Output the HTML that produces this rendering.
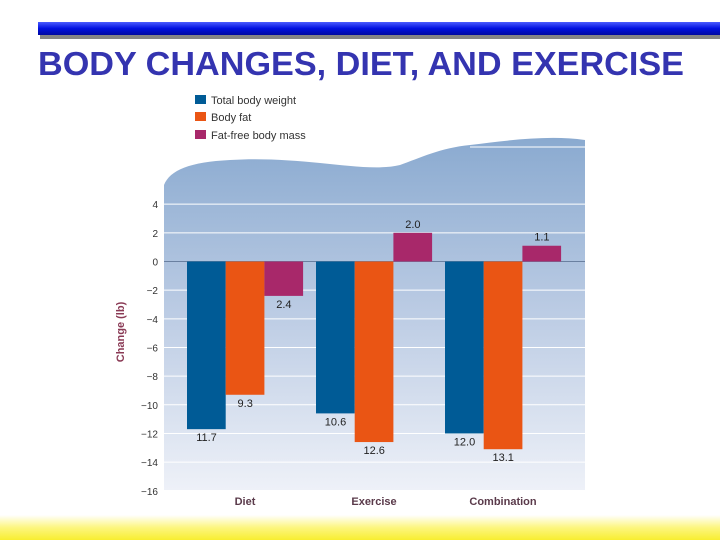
<!DOCTYPE html>
<html><head><meta charset="utf-8"><style>
html,body{margin:0;padding:0;background:#fff;}
svg{display:block;font-family:"Liberation Sans",Arial,sans-serif;}
</style></head><body>
<svg id="c" width="720" height="540" viewBox="0 0 720 540">
<defs>
<linearGradient id="bg" x1="0" y1="0" x2="0" y2="1">
<stop offset="0" stop-color="#8aaad0"/><stop offset="0.5" stop-color="#bccce4"/><stop offset="1" stop-color="#eef1f8"/>
</linearGradient>
<linearGradient id="yl" x1="0" y1="0" x2="0" y2="1">
<stop offset="0" stop-color="#ffffff"/><stop offset="0.5" stop-color="#fdf680"/><stop offset="1" stop-color="#f8ee30"/>
</linearGradient>
<linearGradient id="bar" x1="0" y1="0" x2="0" y2="1">
<stop offset="0" stop-color="#4a5cff"/><stop offset="0.5" stop-color="#0010e0"/><stop offset="1" stop-color="#0008a0"/>
</linearGradient>
</defs>
<rect x="0" y="515" width="720" height="25" fill="url(#yl)"/>
<rect x="40" y="34" width="680" height="5" fill="#333" opacity="0.6"/>
<rect x="38" y="22" width="682" height="13" fill="url(#bar)"/>
<text x="38" y="75" font-size="33" font-weight="bold" fill="#3434b0" textLength="646" lengthAdjust="spacingAndGlyphs">BODY CHANGES, DIET, AND EXERCISE</text>
<path d="M164,490 L164,185 C170,170 190,162 230,160 C260,158 290,160 320,163 C350,166 380,170 400,165 C420,158 440,148 470,145 C510,140 550,135 585,140 L585,490 Z" fill="url(#bg)"/>
<line x1="470" y1="147" x2="585" y2="147" stroke="#fff" stroke-width="1"/>
<g id="grid"></g><g id="bars"></g><g id="labels"></g>
<text transform="translate(124,332) rotate(-90)" text-anchor="middle" font-size="11" font-weight="bold" fill="#8a3a55">Change (lb)</text>
<g>
<rect x="195" y="95" width="11" height="9" fill="#005b96"/>
<text x="211" y="104" font-size="11" fill="#333">Total body weight</text>
<rect x="195" y="112" width="11" height="9" fill="#ea5514"/>
<text x="211" y="121" font-size="11" fill="#333">Body fat</text>
<rect x="195" y="130" width="11" height="9" fill="#a8286a"/>
<text x="211" y="139" font-size="11" fill="#333">Fat-free body mass</text>
</g>
</svg>
<script>
const categories=["Diet","Exercise","Combination"];
const totalWeight=[-11.7,-10.6,-12.0];
const bodyFat=[-9.3,-12.6,-13.1];
const fatFree=[-2.4,2.0,1.1];
const yTicks=[4,2,0,-2,-4,-6,-8,-10,-12,-14,-16];
const NS="http://www.w3.org/2000/svg";
function y(v){return 261.5-v*14.33;}
function gx(i){return 187+i*129;}
function mk(tag,attrs,parent,txt){const e=document.createElementNS(NS,tag);for(const k in attrs)e.setAttribute(k,attrs[k]);if(txt!==undefined)e.textContent=txt;document.getElementById(parent).appendChild(e);return e;}
yTicks.forEach(t=>{
  if(t!==-16&&t!==0){const l=mk('line',{x1:164,x2:585,y1:y(t),y2:y(t),stroke:'#fff','stroke-width':1},'grid');
  
  }
  const tx=mk('text',{x:158,y:y(t)+4,'text-anchor':'end','font-size':10,fill:'#333'},'labels',(t<0?'\u2212':'')+Math.abs(t));
  
  
});
const series=[[totalWeight,'#005b96','total'],[bodyFat,'#ea5514','fat'],[fatFree,'#a8286a','ffm']];
categories.forEach((c,i)=>{
  series.forEach((s,j)=>{
    const v=s[0][i];const x=gx(i)+j*38.7;const top=Math.min(y(0),y(v));const h=Math.abs(y(v)-y(0));
    const r=mk('rect',{x:x,y:top,width:38.7,height:h,fill:s[1]},'bars');
    
    
    const ly=v<0?y(v)+12:y(v)-5;
    const t=mk('text',{x:x+19.5,y:ly,'text-anchor':'middle','font-size':11,fill:'#222'},'labels',Math.abs(v).toFixed(1));
    
    
  });
  const ct=mk('text',{x:gx(i)+58,y:505,'text-anchor':'middle','font-size':11,'font-weight':'bold',fill:'#5a3a4a'},'labels',c);
  
  
});
const z=mk('line',{x1:164,x2:585,y1:y(0),y2:y(0),stroke:'#6a80a0','stroke-width':1},'grid');


</script>
</body></html>
